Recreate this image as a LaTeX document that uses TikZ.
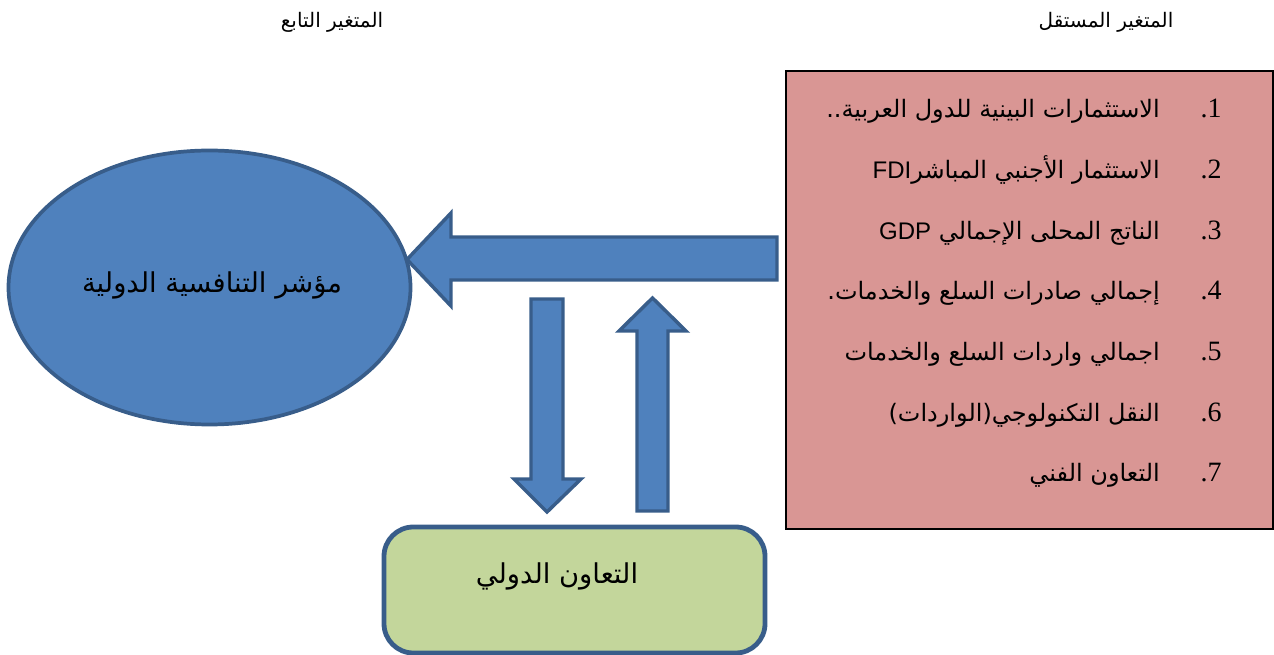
\documentclass[tikz,border=0pt]{standalone}
\usepackage{fontspec}
\setmainfont{Liberation Serif}
\newfontfamily\arabicfont[Script=Arabic]{DejaVu Sans}
\newfontfamily\latinsans{Liberation Sans}
\TeXXeTstate=1
\usetikzlibrary{calc}
\definecolor{arrowfill}{HTML}{4F81BD}
\definecolor{arrowline}{HTML}{385D8A}
\definecolor{pinkfill}{HTML}{D99694}
\definecolor{greenfill}{HTML}{C3D69B}
\tikzset{
  blockarrow/.style={fill=arrowfill,draw=arrowline,line width=2.6pt,line join=miter},
  listitem/.style={font=\arabicfont\fontsize{18}{21}\selectfont,anchor=base east,inner sep=0pt},
  listnum/.style={font=\fontsize{21}{23}\selectfont,anchor=base east,inner sep=0pt},
  headlabel/.style={font=\arabicfont\fontsize{15}{18}\selectfont,anchor=base,inner sep=0pt},
  bigtext/.style={font=\arabicfont\fontsize{20.5}{24}\selectfont,anchor=base,inner sep=0pt},
}
\begin{document}
\begin{tikzpicture}[x=0.75pt,y=-0.75pt]
\useasboundingbox (0,0) rectangle (1274,655);
% headings
\node[headlabel] (hind) at (1106,28) {\beginR المتغير المستقل\endR};
\node[headlabel] (hdep) at (332,28) {\beginR المتغير التابع\endR};
% independent variable box
\fill[pinkfill] (786,71) rectangle (1273,529);
\draw[black,line width=1.1pt] (786,71) rectangle (1273,529);
\coordinate (indepW) at (777,259);
\node[listnum] (n1) at (1222,118) {.1};
\node[listnum] (n2) at (1222,178.7) {.2};
\node[listnum] (n3) at (1222,239.3) {.3};
\node[listnum] (n4) at (1222,300) {.4};
\node[listnum] (n5) at (1222,360.7) {.5};
\node[listnum] (n6) at (1222,421.3) {.6};
\node[listnum] (n7) at (1222,482) {.7};
\node[listitem] (t1) at (1160,118) {\beginR الاستثمارات البينية للدول العربية..\endR};
\node[listitem] (t2) at (1160,178.7) {\beginR الاستثمار الأجنبي المباشر\beginL{\latinsans FDI}\endL\endR};
\node[listitem] (t3) at (1160,239.3) {\beginR الناتج المحلى الإجمالي \beginL{\latinsans GDP}\endL\endR};
\node[listitem] (t4) at (1160,300) {\beginR إجمالي صادرات السلع والخدمات.\endR};
\node[listitem] (t5) at (1160,360.7) {\beginR اجمالي واردات السلع والخدمات\endR};
\node[listitem] (t6) at (1160,421.3) {\beginR النقل التكنولوجي(الواردات)\endR};
\node[listitem] (t7) at (1160,482) {\beginR التعاون الفني\endR};
% dependent variable ellipse
\fill[arrowfill,draw=arrowline,line width=2.8pt] (209.5,287.5) ellipse [x radius=201,y radius=137];
\coordinate (ell) at (209.5,287.5);
\node[bigtext] (elltext) at (212,293) {\beginR مؤشر التنافسية الدولية\endR};
% cooperation box
\draw[fill=greenfill,draw=arrowline,line width=3.6pt,rounded corners=22] (384,527) rectangle (765,653);
\coordinate (coop) at (574.5,590);
\node[bigtext] (cooptext) at (557,583) {\beginR التعاون الدولي\endR};
% left block arrow from list box to ellipse
\draw[blockarrow] (777,237) -- (451,237) -- (451,213) -- (407,259.5) -- (451,306) -- (451,280) -- (777,280) -- cycle;
% down arrow to cooperation box
\draw[blockarrow] (531,299) -- (563,299) -- (563,479) -- (581,479) -- (547,512) -- (514,479) -- (531,479) -- cycle;
% up arrow from cooperation box
\draw[blockarrow] (637,511) -- (668,511) -- (668,331) -- (686,331) -- (652.5,298) -- (619,331) -- (637,331) -- cycle;
\end{tikzpicture}
\end{document}
